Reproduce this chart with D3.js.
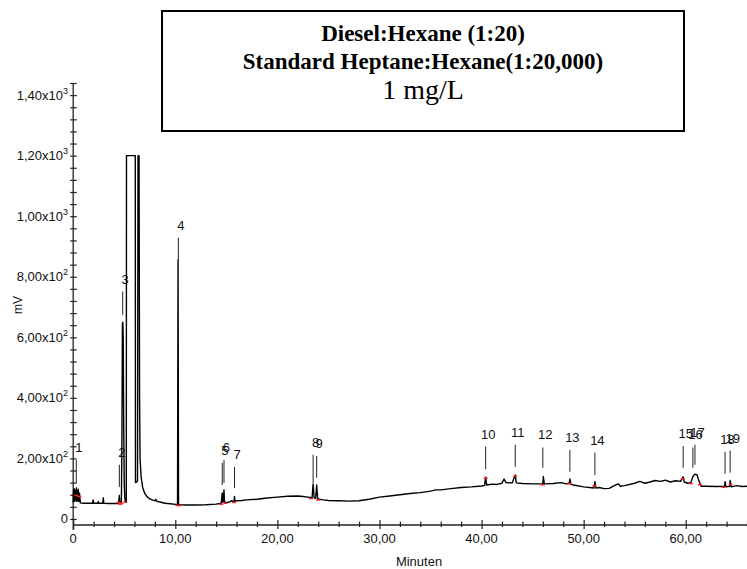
<!DOCTYPE html>
<html>
<head>
<meta charset="utf-8">
<script src="https://cdn.jsdelivr.net/npm/d3@7"></script>
<style>
  html, body { margin: 0; padding: 0; background: #fff; }
  svg { display: block; }
  text { font-family: "Liberation Sans", Arial, sans-serif; }
</style>
</head>
<body>
<div id="chart"></div>
<script>
// ---- Data ----
const titleLines = ["Diesel:Hexane (1:20)", "Standard Heptane:Hexane(1:20,000)", "1 mg/L"];
const xLabel = "Minuten";
const yLabel = "mV";

const xMajorTicks = [0, 10, 20, 30, 40, 50, 60];
const yMajorTicks = [0, 200, 400, 600, 800, 1000, 1200, 1400];

// chromatogram trace (time in minutes, signal in mV)
const traceTime = [
  0.00,0.04,0.07,0.10,0.13,0.17,0.20,0.24,0.28,0.32,0.36,0.40,0.45,0.50,0.55,0.62,0.70,
  1.0,1.5,1.9,1.95,2.0,2.4,2.45,2.5,2.9,2.95,3.0,3.5,4.0,4.4,4.48,4.52,4.56,4.62,
  4.72,4.78,4.82,4.86,4.90,4.95,5.00,5.05,5.12,5.20,5.22,6.08,6.10,6.30,6.35,6.45,
  6.50,6.55,6.65,6.80,7.0,7.2,7.5,7.8,8.0,8.1,8.2,8.6,9.0,9.5,10.0,10.22,10.27,10.32,
  10.5,11,12,13,14,14.5,14.55,14.6,14.65,14.72,14.77,14.82,15.0,15.3,15.5,15.75,15.8,15.85,
  16.0,16.5,17,18,19,20,21,22,22.5,23.0,23.4,23.5,23.6,23.75,23.85,23.95,24.5,25,
  26,27,28,29,30,31,32,33,34,35,35.5,36,37,38,39,40,40.3,40.4,40.5,41,41.5,42,42.2,42.4,
  43,43.3,43.4,44,45,46,46.05,46.15,47,47.8,48.3,48.6,48.65,48.75,49,50,51,51.1,51.2,
  51.5,52,52.5,53,53.4,53.6,54,55,55.5,56,56.5,57,57.5,58,58.5,59,59.5,59.75,59.85,
  60.2,60.5,60.7,60.9,61.1,61.3,61.5,62,63,63.8,63.85,63.95,64.3,64.35,64.45,65,65.5,66
];
const traceMV = [
  55,95,62,100,58,88,64,96,60,102,58,92,60,98,58,85,53,
  52,52,52,63,52,52,58,52,52,70,52,51,51,51,62,78,60,52,
  55,300,645,650,600,300,120,70,55,55,1200,1200,120,125,1200,1200,
  400,200,140,105,85,75,66,62,60,65,58,55,52,50,48,48,856,48,
  47,46,46,47,49,52,70,86,55,60,96,56,54,56,60,58,74,58,
  60,61,63,65,69,72,75,76,74,72,70,116,70,68,112,66,63,61,
  60,59,60,65,72,76,80,84,87,92,96,96,100,104,106,109,111,138,112,115,114,118,132,120,
  119,145,119,117,116,116,140,116,117,120,116,119,132,114,112,106,102,123,102,
  104,100,101,110,116,108,110,118,124,118,122,127,124,128,122,126,124,139,122,
  118,120,140,148,146,125,108,108,107,108,123,106,108,127,106,110,107,108
];

// peak annotations: id, retention time, line top and bottom (mV)
const peakIds   = ["1","2","3","4","5","6","7","8","9","10","11","12","13","14","15","16","17","18","19"];
const peakTimes = [0.3,4.52,4.85,10.3,14.6,14.77,15.8,23.5,23.85,40.4,43.3,46.0,48.65,51.1,59.75,60.7,60.9,63.85,64.35];
const peakLineTop    = [195,179,751,929,185,195,172,212,208,239,245,236,228,219,241,236,245,222,226];
const peakLineBottom = [119,106,674,856,112,119,102,119,136,164,172,169,156,145,169,169,179,149,153];

// integration markers (red) at peak bases
const markerTimes = [0.3,0.6,4.45,4.62,4.72,5.1,10.2,10.4,14.5,14.9,15.75,23.3,24.0,40.4,43.3,46.0,48.6,51.05,59.7,60.5,61.4,63.7,64.4];

// ---- Layout ----
const W = 747, H = 569;
const svg = d3.select("#chart").append("svg").attr("width", W).attr("height", H);

const x = d3.scaleLinear().domain([0, 66]).range([73.2, 747]);
const y = d3.scaleLinear().domain([-20, 1440]).range([525, 83]);

// ---- Title box ----
const boxG = svg.append("g");
boxG.append("rect").attr("x", 162).attr("y", 11).attr("width", 522).attr("height", 120)
  .attr("fill", "#fff").attr("stroke", "#000").attr("stroke-width", 2);
const titleStyle = [
  {y: 41, size: 23, weight: "bold"},
  {y: 69, size: 23, weight: "bold"},
  {y: 99, size: 28, weight: "normal"}
];
titleLines.forEach((t, i) => {
  boxG.append("text").attr("x", 423).attr("y", titleStyle[i].y)
    .attr("text-anchor", "middle")
    .style("font-family", "'Liberation Serif', 'Times New Roman', serif")
    .style("font-size", titleStyle[i].size + "px")
    .style("font-weight", titleStyle[i].weight)
    .text(t);
});

// ---- Axes ----
const axisColor = "#222";
const fmtX = d => d === 0 ? "0" : d.toFixed(2).replace(".", ",");

// Y axis
const yMinor = d3.range(0, 1441, 40);
const yAxisG = svg.append("g").attr("transform", "translate(73.2,0)");
yAxisG.call(d3.axisLeft(y).tickValues(yMinor).tickSize(0).tickFormat(""));
yAxisG.select(".domain").remove();
yAxisG.append("line").attr("x1", 0).attr("x2", 0).attr("y1", 83).attr("y2", 530)
  .attr("stroke", axisColor).attr("stroke-width", 1.3);
yAxisG.selectAll(".tick line").attr("x1", -3).attr("x2", 3.5)
  .attr("stroke", axisColor).attr("stroke-width", 1.2);

const yLab = svg.append("g");
yMajorTicks.forEach(v => {
  const t = yLab.append("text").attr("x", 68).attr("y", y(v) + 4.5)
    .attr("text-anchor", "end").style("font-size", "13px").attr("fill", "#111");
  if (v === 0) { t.text("0"); return; }
  const exp = Math.floor(Math.log10(v));
  const mant = (v / Math.pow(10, exp)).toFixed(2).replace(".", ",");
  t.append("tspan").text(mant + "x10");
  t.append("tspan").attr("dy", -6).style("font-size", "9px").text(String(exp));
});

// X axis
const xMinor = d3.range(0, 66.01, 2);
const xAxisG = svg.append("g").attr("transform", "translate(0,525)");
xAxisG.call(d3.axisBottom(x).tickValues(xMinor).tickSize(0).tickFormat(""));
xAxisG.select(".domain").remove();
xAxisG.append("line").attr("x1", 73.2).attr("x2", 747).attr("y1", 0).attr("y2", 0)
  .attr("stroke", axisColor).attr("stroke-width", 1.3);
xAxisG.selectAll(".tick line")
  .attr("y1", d => xMajorTicks.includes(d) ? -5 : -3.5)
  .attr("y2", d => xMajorTicks.includes(d) ? 4 : 2)
  .attr("stroke", axisColor).attr("stroke-width", 1.2);

xMajorTicks.forEach(v => {
  svg.append("text").attr("x", x(v)).attr("y", 543).attr("text-anchor", "middle")
    .style("font-size", "13px").attr("fill", "#111").text(fmtX(v));
});

svg.append("text").attr("x", 419).attr("y", 566).attr("text-anchor", "middle")
  .style("font-size", "13px").attr("fill", "#111").text(xLabel);
svg.append("text").attr("transform", "translate(22,305) rotate(-90)")
  .attr("text-anchor", "middle").style("font-size", "12px").attr("fill", "#111").text(yLabel);

// ---- Trace ----
const traceData = traceTime.map((t, i) => ({t, v: traceMV[i]}));
svg.append("path").datum(traceData)
  .attr("fill", "none").attr("stroke", "#000").attr("stroke-width", 1.4)
  .attr("stroke-linejoin", "round")
  .attr("d", d3.line().x(d => x(d.t)).y(d => y(d.v)));

// red integration markers on the trace
const traceAt = d3.scaleLinear().domain(traceTime).range(traceMV);
svg.append("g").selectAll("line").data(markerTimes).join("line")
  .attr("x1", d => x(d) - 2).attr("x2", d => x(d) + 2)
  .attr("y1", d => y(traceAt(d)) + 1).attr("y2", d => y(traceAt(d)) + 1)
  .attr("stroke", "#f22").attr("stroke-width", 1.5);

// ---- Peak labels ----
const peakG = svg.append("g");
peakIds.forEach((id, i) => {
  const px = x(peakTimes[i]);
  peakG.append("line").attr("x1", px).attr("x2", px)
    .attr("y1", y(peakLineTop[i])).attr("y2", y(peakLineBottom[i]))
    .attr("stroke", "#222").attr("stroke-width", 1);
  peakG.append("text").attr("x", px + 2.5).attr("y", y(peakLineTop[i]) - 8)
    .attr("text-anchor", "middle").style("font-size", "13px").attr("fill", "#111").text(id);
});
</script>
</body>
</html>
